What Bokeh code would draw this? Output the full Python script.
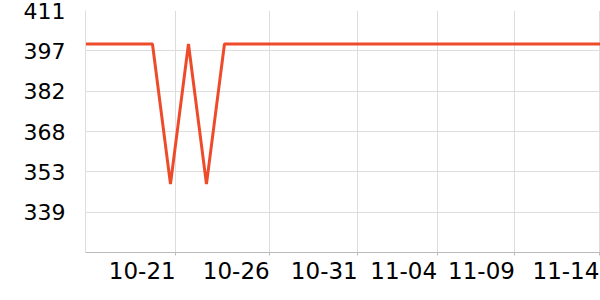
from bokeh.plotting import figure
from bokeh.models import FixedTicker, NumeralTickFormatter, Range1d, LinearAxis
from bokeh.embed import file_html
from bokeh.resources import INLINE

# data: x = position index of each reading, y = value
x_idx = [-4, -3, -2, -1, 0, 1, 2, 3, 4, 5, 6, 7, 8, 9, 10, 11, 12, 13, 14, 15,
         16, 17, 18, 19, 20, 21, 22, 23, 24, 25]
values = [399, 399, 399, 399, 399, 349, 399, 349, 399, 399, 399, 399, 399, 399, 399,
          399, 399, 399, 399, 399, 399, 399, 399, 399, 399, 399, 399, 399, 399, 399]

# x tick positions (in the index units above) and labels
x_tick_pos = [1.294, 6.517, 11.406, 15.817, 20.139, 24.833]
x_tick_labels = ["10-21", "10-26", "10-31", "11-04", "11-09", "11-14"]
# labels sit to the left of their tick (right-aligned): centre offset in index units
label_shift = 1.861
x_label_pos = [t - label_shift for t in x_tick_pos]

# y axis
y_min, y_max = 324.57, 410.97
y_ticks = [338.97, 353.37, 367.77, 382.17, 396.57, 410.97]

p = figure(width=600, height=300, output_backend="svg", toolbar_location=None,
           x_range=Range1d(-3.72, 24.89), y_range=Range1d(y_min, y_max),
           x_axis_location=None,
           min_border_left=85, min_border_right=0, min_border_top=10,
           min_border_bottom=48)
p.outline_line_color = None
p.background_fill_color = "white"
p.border_fill_color = "white"

p.line(x_idx, values, line_color="#EE4B2B", line_width=3)

FONT = "DejaVu Sans"

# axis with line + tick marks (no labels)
tick_axis = LinearAxis(ticker=FixedTicker(ticks=x_tick_pos, minor_ticks=[]))
tick_axis.major_label_overrides = {v: "" for v in x_tick_pos}
tick_axis.major_label_text_font_size = "0px"
tick_axis.major_label_standoff = 0
tick_axis.axis_line_color = "#bbbbbb"
tick_axis.major_tick_line_color = "#bbbbbb"
tick_axis.major_tick_out = 3
tick_axis.major_tick_in = 0
tick_axis.minor_tick_line_color = None
p.add_layout(tick_axis, "below")

# axis carrying the date labels
label_axis = LinearAxis(ticker=FixedTicker(ticks=x_label_pos, minor_ticks=[]))
label_axis.major_label_overrides = {v: l for v, l in zip(x_label_pos, x_tick_labels)}
label_axis.major_label_text_font = FONT
label_axis.major_label_text_font_size = "23px"
label_axis.major_label_text_color = "black"
label_axis.major_label_standoff = 6
label_axis.axis_line_color = None
label_axis.major_tick_line_color = None
label_axis.major_tick_out = 0
label_axis.major_tick_in = 0
label_axis.minor_tick_line_color = None
p.add_layout(label_axis, "below")

ya = p.yaxis[0]
ya.ticker = FixedTicker(ticks=y_ticks, minor_ticks=[])
ya.formatter = NumeralTickFormatter(format="0")
ya.major_label_text_font = FONT
ya.major_label_text_font_size = "22px"
ya.major_label_text_color = "black"
ya.major_label_standoff = 20
ya.axis_line_color = "#dddddd"
ya.major_tick_line_color = None
ya.major_tick_out = 0
ya.major_tick_in = 0
ya.minor_tick_line_color = None

p.xgrid.ticker = FixedTicker(ticks=x_tick_pos)
p.xgrid.grid_line_color = "#dddddd"
p.ygrid.ticker = FixedTicker(ticks=y_ticks)
p.ygrid.grid_line_color = "#dddddd"

open("out.html", "w").write(file_html(p, INLINE))
